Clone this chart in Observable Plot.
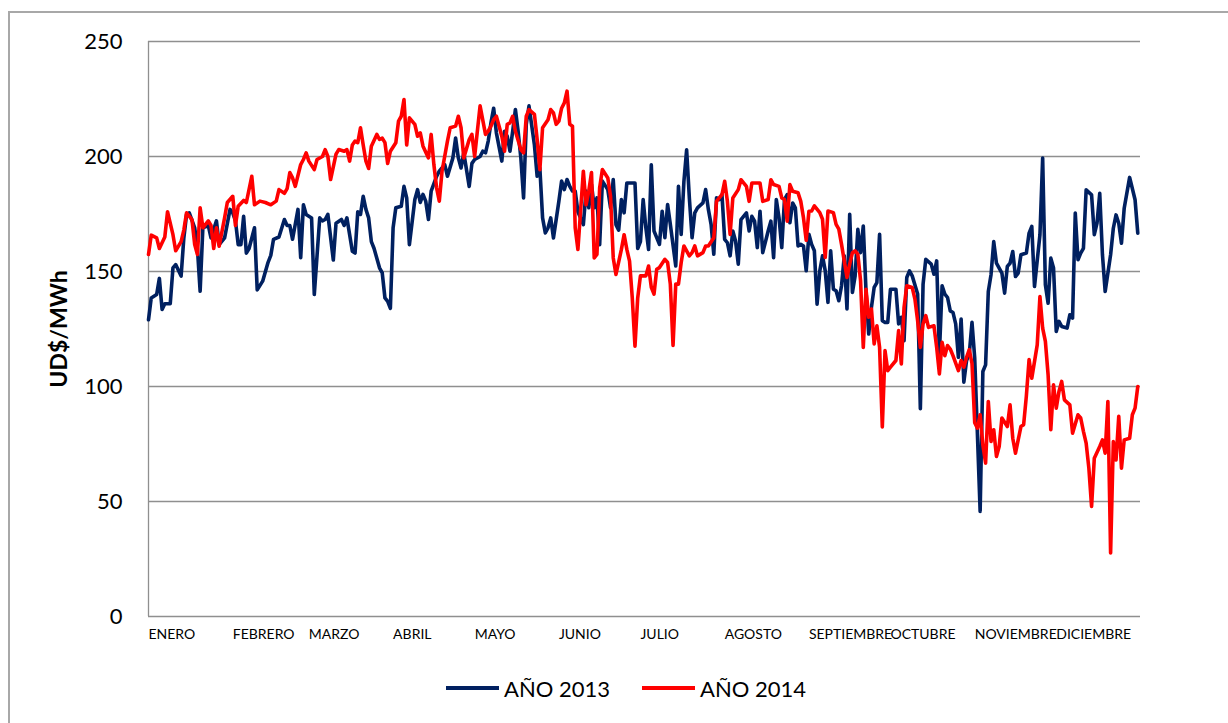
<!DOCTYPE html>
<html>
<head>
<meta charset="utf-8">
<script src="https://cdn.jsdelivr.net/npm/d3@7"></script>
<script src="https://cdn.jsdelivr.net/npm/@observablehq/plot@0.6"></script>
<style>
  html, body { margin: 0; padding: 0; background: #fff; }
  #wrap { position: relative; width: 1228px; height: 723px; overflow: hidden; font-family: Lato, "Open Sans", sans-serif; }
  #frame { position: absolute; left: 8px; top: 11px; width: 1400px; height: 900px; border-top: 2px solid #a8a8a8; border-left: 2px solid #a8a8a8; box-sizing: border-box; }
  #chart { position: absolute; left: 0; top: 0; }
  #legend { position: absolute; left: 0; top: 660px; width: 1228px; height: 56px; display: flex; justify-content: center; align-items: center; font-size: 22px; color: #000; padding-left: 24px; box-sizing: border-box; }
  .item { display: flex; align-items: center; margin: 0 16px; }
  .swatch { width: 53px; height: 4px; margin-right: 5px; }
</style>
</head>
<body>
<div id="wrap">
  <div id="frame"></div>
  <div id="chart"></div>
  <div id="legend"></div>
</div>
<script>
const meses = ["ENERO","FEBRERO","MARZO","ABRIL","MAYO","JUNIO","JULIO","AGOSTO","SEPTIEMBRE","OCTUBRE","NOVIEMBRE","DICIEMBRE"];
const inicioMes = [0,31,59,90,120,151,181,212,243,273,304,334];
const ticksY = [0,50,100,150,200,250];
const series = ["AÑO 2013","AÑO 2014"];
const colores = ["#002060","#ff0000"];

const dias2013 = [0,1,3,4,5,6,8,9,10,12,13,14,15,17,18,19,20,22,23,25,26,28,30,31,32,33,34,35,36,37,39,40,42,44,45,46,48,50,51,52,53,55,56,57,58,60,61,63,64,65,66,68,69,71,72,73,75,76,77,78,79,80,81,82,83,85,86,87,88,89,90,91,93,94,95,96,98,99,100,101,102,103,104,106,107,109,110,112,113,114,115,116,118,119,120,122,123,124,125,126,127,128,130,131,132,133,134,135,136,137,138,139,140,142,143,144,145,146,147,148,149,151,152,153,154,155,156,157,158,160,161,162,163,164,165,166,167,169,170,171,172,173,174,175,176,178,179,180,181,182,183,184,185,186,188,189,190,191,192,194,195,196,197,198,199,200,201,202,204,205,206,207,208,209,210,211,212,213,214,215,216,217,218,220,221,222,223,224,225,226,228,229,230,231,232,233,234,235,236,237,238,239,240,241,242,243,244,245,246,247,248,249,250,251,252,253,254,255,256,257,258,259,260,261,262,263,264,265,266,267,268,269,270,271,272,273,274,275,276,277,278,279,280,281,283,284,285,286,288,289,290,291,292,293,294,295,296,297,298,299,300,301,302,303,304,305,306,307,308,309,310,311,312,313,314,315,316,317,318,319,320,321,323,324,325,326,328,329,330,331,332,333,334,335,336,338,339,340,341,342,343,344,345,347,348,349,350,351,352,354,355,356,357,358,359,361,363,364];
const precio2013 = [129,138.5,140,147,133.5,136,136,151.6,153,148,164.6,174.8,175.5,169,160,141.4,169,170,164.6,172,161.7,164.6,177,175.5,172,161.7,161.7,174,158,160,169,142,145.8,154,157,164,165,172.6,170,170,164,177,156,179,174.8,173.3,140,173.3,172,172.6,174.8,155,171,172.6,170,173.3,158.8,158,176,174.8,182.7,177,173.3,163,160,151.6,149.4,138.5,137,134,169,177.7,178.4,187,182,161.7,181.3,185.6,180,183.5,180.6,172.6,184.9,191.4,193.6,196.5,191.4,199.4,208,199.4,195,201.6,187,197,198.7,200,202.3,201.6,206.7,214.6,221,210.3,198,211,208.8,202.3,211,220.4,211,199.4,182,214,222,205,191.4,195,173.3,166.8,169,173.3,164.6,180.6,189.3,185.6,190,187,185,185,176,170.4,185,177.7,187.8,177.7,182,161.7,189.3,185.6,177.7,190,170.4,168,181.3,175.5,188.5,188.5,188.5,160,163,181.3,169,159.6,196.4,167.6,161.8,176.2,164.7,179.1,170.5,152.4,187,166.1,189.2,202.9,182,164.7,175.5,177.7,179.8,185.6,177,170.5,157.5,182,181.3,183.4,164,162.5,156.8,167.6,163.3,153.2,172.6,175.5,167.6,174,171.9,160.4,176.2,158.2,167.6,171.9,156,181.3,173.3,160.4,181.3,183.4,171.2,179.8,177.7,161.1,161.8,161.1,150.3,166.2,161.8,159,135.8,150.3,156.8,150.3,136.6,159,142.3,141.6,137.3,143.8,156.8,133.7,174.9,140.9,148.1,168.3,158.2,169.8,141.6,122.8,134.4,143.1,145.2,166.2,128.6,127.9,127.9,142.3,142.3,142.3,127.2,130.1,119.9,147.4,150.3,148.1,140.2,90.3,144.5,155.3,153.2,148.8,154.6,114.2,143.8,140.2,138.7,132.9,132.2,127.2,112.7,129.3,101.9,111.3,114.2,127.9,112.3,79,45.7,106.5,109.4,141.3,148.6,163,153.6,151.5,149.3,140.6,152.2,153.6,158.7,147.8,149.3,157.3,158,166.7,169.6,143.5,166,199.3,144.2,136.2,155.8,151.5,123.9,128.3,126.1,125.4,131.2,129.7,175.4,155.1,158,160.1,185.5,183.3,166,171,184,157.3,141.3,157.3,168.8,174.6,171,162.3,177.5,190.9,181.2,166.7];

const dias2014 = [0,1,3,4,6,7,9,10,12,13,14,16,17,18,19,20,22,23,24,25,26,28,29,31,32,33,35,36,38,39,41,43,45,47,48,50,51,52,53,54,56,57,58,59,61,62,64,65,66,67,69,70,72,73,74,75,76,77,78,79,80,81,82,84,85,86,87,88,89,91,92,93,94,95,96,98,99,100,101,103,104,105,106,107,108,110,111,113,114,115,116,118,119,120,122,124,125,126,127,128,130,131,132,133,134,135,137,138,139,140,142,143,144,145,147,148,149,150,151,152,153,154,155,156,157,158,160,161,162,163,164,165,166,167,169,170,171,172,174,175,176,177,178,179,180,181,183,184,185,186,187,188,190,191,192,193,194,195,196,197,199,200,201,202,204,205,206,208,209,210,211,212,213,214,215,217,218,220,221,222,224,225,226,228,229,230,232,233,234,235,236,237,239,240,241,242,243,244,245,247,248,249,250,252,253,254,255,256,257,258,259,260,261,262,263,264,265,266,267,268,269,270,271,272,273,275,276,277,278,279,281,282,283,284,285,286,287,289,290,291,292,293,294,295,296,298,299,300,301,302,303,304,305,306,307,308,309,310,311,312,313,314,316,317,318,319,321,322,323,324,325,327,328,329,330,331,332,333,334,335,336,337,339,340,342,343,344,345,346,347,348,350,351,352,353,354,355,356,357,358,359,361,362,363,364];
const precio2014 = [157.4,165.8,164.6,160,165,176,166,159,163,168,175.5,172.6,161.7,157.4,177.7,169,172,170,160,169,161,173.3,180,182.7,170,178.4,180.9,180,191.4,179,180.6,180,179,180.6,185.6,184,186,193,190.7,187,196.5,198.7,201.6,198,194.3,198.7,200,203,200,190,201,203,202.3,203,198,205,206.7,206,212.5,205,198,194.8,204.5,209.6,207.4,208,206,197,202.3,206,215.4,217.5,224.8,205,216.8,214,208.8,210.3,204.5,199.4,209.6,196.5,186.4,180.6,193.6,206.7,212.5,213.2,217.5,212.5,199.4,207.4,209.6,200,222,209.6,211,213.2,216,217.5,208.8,202.3,214,214.6,217.5,211,203,201.6,217.5,220.4,218.3,207.4,194.3,212.5,216,220.4,219,214,215.4,221,223.3,228.4,214,213.2,169,159.6,193.6,179,185,193,155.9,157.4,186.4,194.3,190.7,182.7,155.9,148.7,159.6,166,159.6,154.5,138.5,117.5,138.5,148.1,148.1,152.4,143.1,140.2,151,151.7,155.3,153.9,144.5,117.9,144.5,144.5,153.9,161.1,156.8,158.2,161.1,156.8,158.2,161.1,161.1,164.7,180.5,182,183.4,189.2,180.5,166.1,182,185.6,189.9,187,180.5,188.5,188.5,188.5,180.5,181.3,189.9,187.8,187,182,181.3,171.9,187.8,184.9,184.2,180.5,173.3,163.6,176.2,176.3,178.5,175.6,172.7,156.1,176.3,175.6,170.5,168.4,161.8,154.6,147.4,153.2,158.2,159,157.5,146,117,142.3,130.1,133.7,118.5,126.4,117,82.4,115.6,106.9,108.4,111.3,124.3,109.8,134.4,143.8,143.1,138,128.6,117,127.2,130.8,125.7,126.4,117,105.5,119.2,113.4,117.8,116.3,113.4,106.9,111.3,108.4,112.7,116,110,84.3,81.9,87.7,74.6,66.7,93.5,76.1,81.2,69.6,73.9,86.3,82.6,92,77.5,71,82.6,83.4,95.8,111.7,103.6,118.1,139.1,125.4,119.6,105.1,81.2,100.7,90.6,97.8,102.2,94.2,92,79.7,87.7,86.3,80.5,75.4,64.5,47.9,68.8,73.9,76.8,71,93.5,27.6,76.1,68.1,87,64.5,76.8,77.5,87.7,90.6,100];

const datos2013 = dias2013.map((d, i) => ({dia: d, precio: precio2013[i]}));
const datos2014 = dias2014.map((d, i) => ({dia: d, precio: precio2014[i]}));
const nombreMes = new Map(inicioMes.map((d, i) => [d, meses[i]]));
const font = "Lato, 'Open Sans', sans-serif";

const chart = Plot.plot({
  width: 1228,
  height: 660,
  marginLeft: 148,
  marginRight: 88,
  marginTop: 41,
  marginBottom: 44,
  style: {fontFamily: font, background: "transparent", color: "#000"},
  x: {domain: [0, 365]},
  y: {domain: [0, 250]},
  marks: [
    Plot.gridY(ticksY.slice(1), {stroke: "#8f8f8f", strokeOpacity: 1, strokeWidth: 1.3}),
    Plot.ruleY([0], {stroke: "#8f8f8f", strokeWidth: 1.3}),
    Plot.ruleX([0], {stroke: "#8f8f8f", strokeWidth: 1.3}),
    Plot.axisY({ticks: ticksY, tickSize: 0, tickPadding: 26, fontSize: 22, label: null, fill: "#000"}),
    Plot.axisX({ticks: inicioMes, tickSize: 0, tickPadding: 13, fontSize: 14, textAnchor: "start", tickFormat: d => nombreMes.get(d), label: null, fill: "#000"}),
    Plot.text(["UD$/MWh"], {frameAnchor: "left", textAnchor: "middle", dx: -89, rotate: -90, fontSize: 23, fontWeight: "bold", fill: "#000"}),
    Plot.line(datos2013, {x: "dia", y: "precio", stroke: colores[0], strokeWidth: 3.6, strokeLinejoin: "round"}),
    Plot.line(datos2014, {x: "dia", y: "precio", stroke: colores[1], strokeWidth: 3.6, strokeLinejoin: "round"})
  ]
});
document.getElementById("chart").appendChild(chart);

const legend = document.getElementById("legend");
series.forEach((s, i) => {
  const item = document.createElement("div");
  item.className = "item";
  const sw = document.createElement("div");
  sw.className = "swatch";
  sw.style.background = colores[i];
  const t = document.createElement("span");
  t.textContent = s;
  item.appendChild(sw);
  item.appendChild(t);
  legend.appendChild(item);
});
</script>
</body>
</html>
